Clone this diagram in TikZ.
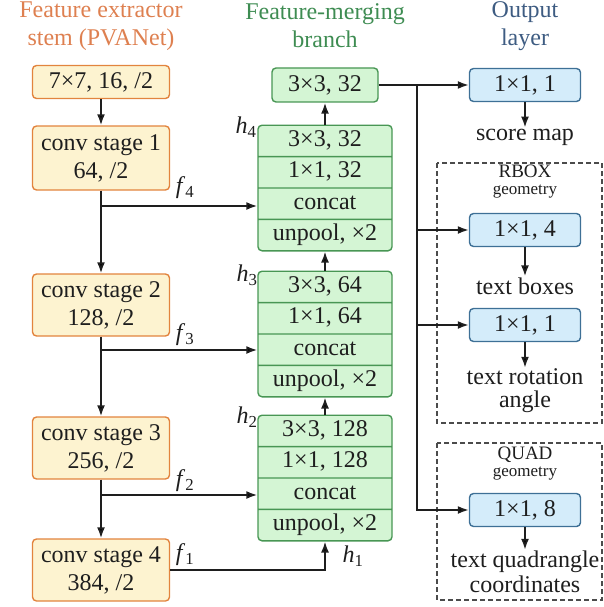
\documentclass[tikz,border=0pt]{standalone}
\usepackage{fontspec}
\setmainfont{Liberation Serif}
\usetikzlibrary{shapes.multipart, arrows.meta}

\definecolor{ink}{RGB}{30,30,30}
\definecolor{stemtitle}{RGB}{222,128,80}
\definecolor{stemline}{RGB}{226,132,62}
\definecolor{stemfill}{RGB}{253,243,208}
\definecolor{mergetitle}{RGB}{62,140,82}
\definecolor{mergeline}{RGB}{72,150,84}
\definecolor{mergefill}{RGB}{212,245,212}
\definecolor{outtitle}{RGB}{62,92,130}
\definecolor{outline}{RGB}{62,112,150}
\definecolor{outfill}{RGB}{212,236,250}

\newcommand{\lbl}[2]{\textit{#1}\textsubscript{#2}}

\begin{document}
\begin{tikzpicture}[x=1pt, y=-1pt, >={Latex[length=11pt, width=8pt]}, font=\fontsize{24}{28}\selectfont]

      \tikzset{stem/.style={draw=stemline, fill=stemfill, line width=1.4pt, rounded corners=4pt, minimum width=137pt, minimum height=62pt, align=center, inner sep=1pt, text=ink}}
      \tikzset{merge/.style={draw=mergeline, fill=mergefill, line width=1.4pt, rounded corners=4pt, minimum width=134pt, inner xsep=2pt, inner ysep=1pt, text=ink}}
      \tikzset{outbox/.style={draw=outline, fill=outfill, line width=1.4pt, rounded corners=4pt, minimum width=111pt, minimum height=33pt, inner sep=1pt, text=ink}}
      \tikzset{plain/.style={align=center, inner sep=1pt, text=ink}}
      \tikzset{link/.style={->, line width=1.8pt, draw=ink}}
      \useasboundingbox (0,0) rectangle (604,607);
%% Titles
      	\node[align=center, text=stemtitle] (ttl1) at (101,26) {Feature extractor\\stem (PVANet)};
      	\node[align=center, text=mergetitle] (ttl2) at (325,26) {Feature-merging\\branch};
      	\node[align=center, text=outtitle] (ttl3) at (525,26) {Output\\layer};
%% Stem
      	\node[stem, minimum height=33pt] (s0) at (101,82) {7×7, 16, /2};
      	\node[stem, minimum height=64pt] (s1) at (101,158) {conv stage 1\\64, /2};
      	\node[stem] (s2) at (101,305) {conv stage 2\\128, /2};
      	\node[stem] (s3) at (101,448) {conv stage 3\\256, /2};
      	\node[stem] (s4) at (101,570) {conv stage 4\\384, /2};
      	\coordinate (t4) at (101,206);
      	\coordinate (t3) at (101,350);
      	\coordinate (t2) at (101,495);
%% Merging branch
      	\node[merge, minimum height=34pt, minimum width=106pt] (top) at (325,85) {3×3, 32};
      	\node[merge, rectangle split, rectangle split parts=4] (blk4) at (325,188)
      	    {\strut 3×3, 32\nodepart{two}\strut 1×1, 32\nodepart{three}\strut concat\nodepart{four}\strut unpool, ×2};
      	\node[merge, rectangle split, rectangle split parts=4] (blk3) at (325,334)
      	    {\strut 3×3, 64\nodepart{two}\strut 1×1, 64\nodepart{three}\strut concat\nodepart{four}\strut unpool, ×2};
      	\node[merge, rectangle split, rectangle split parts=4] (blk2) at (325,478)
      	    {\strut 3×3, 128\nodepart{two}\strut 1×1, 128\nodepart{three}\strut concat\nodepart{four}\strut unpool, ×2};
%% Output layer
      	\node[outbox] (o1) at (525,85) {1×1, 1};
      	\node[plain] (sm) at (525,137) {score map};
      	\node[outbox] (o2) at (525,230) {1×1, 4};
      	\node[plain] (tb) at (525,286) {text boxes};
      	\node[outbox] (o3) at (525,325) {1×1, 1};
      	\node[plain, font=\fontsize{24}{23}\selectfont] (ra) at (525,391) {text rotation\\angle};
      	\node[outbox] (o4) at (525,510) {1×1, 8};
      	\node[plain, font=\fontsize{24}{25}\selectfont] (qc) at (525,572) {text quadrangle\\coordinates};
      	\node[plain, font=\fontsize{19}{17}\selectfont] (rb) at (525,182) {RBOX\\{\fontsize{17}{17}\selectfont geometry}};
      	\node[plain, font=\fontsize{19}{17}\selectfont] (qd) at (525,464) {QUAD\\{\fontsize{17}{17}\selectfont geometry}};
      	\draw[dashed, line width=1.1pt, draw=ink!80, dash pattern=on 5pt off 3pt] (437,163) rectangle (602,423);
      	\draw[dashed, line width=1.1pt, draw=ink!80, dash pattern=on 5pt off 3pt] (437,443) rectangle (602,600);
      	\coordinate (sp) at (417,85);
%% Labels
      	\node[text=ink] (lf4) at (185,188) {\lbl{f}{4}};
      	\node[text=ink] (lf3) at (185,335) {\lbl{f}{3}};
      	\node[text=ink] (lf2) at (185,481) {\lbl{f}{2}};
      	\node[text=ink] (lf1) at (185,555) {\lbl{f}{1}};
      	\node[text=ink] (lh4) at (246,127) {\lbl{h}{4}};
      	\node[text=ink] (lh3) at (247,275) {\lbl{h}{3}};
      	\node[text=ink] (lh2) at (247,417) {\lbl{h}{2}};
      	\node[text=ink] (lh1) at (353,556) {\lbl{h}{1}};
%Edges
		\draw[link] (s0) -- (s1);
		\draw[link] (s1) -- (s2);
		\draw[link] (s2) -- (s3);
		\draw[link] (s3) -- (s4);
		\draw[link] (t4) -- (t4 -| blk4.west);
		\draw[link] (t3) -- (t3 -| blk3.west);
		\draw[link] (t2) -- (t2 -| blk2.west);
		\draw[link] (s4.east) -| (blk2.south);
		\draw[link] (blk2) -- (blk3);
		\draw[link] (blk3) -- (blk4);
		\draw[link] (blk4) -- (top);
		\draw[link] (top) -- (o1);
		\draw[link] (sp) |- (o2.west);
		\draw[link] (sp) |- (o3.west);
		\draw[link] (sp) |- (o4.west);
		\draw[link] (o1) -- (sm);
		\draw[link] (o2) -- (tb);
		\draw[link] (o3) -- (ra);
		\draw[link] (o4) -- (qc);

	\end{tikzpicture}
\end{document}
